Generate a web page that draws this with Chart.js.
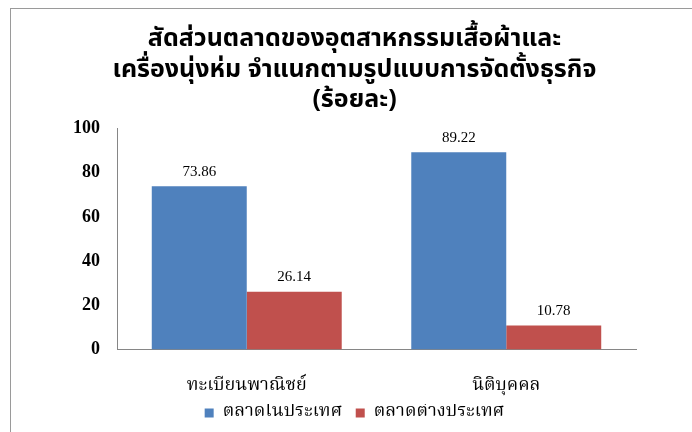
<!DOCTYPE html>
<html>
<head>
<meta charset="utf-8">
<script src="https://cdn.jsdelivr.net/npm/chart.js@4"></script>
<style>
  html, body { margin: 0; padding: 0; background: #fff; width: 692px; height: 432px; overflow: hidden; }
  #frame { position: absolute; left: 10px; top: 8px; width: 690px; height: 430px;
           border-left: 1px solid #9a9a9a; border-top: 1px solid #9a9a9a; background: #fff; }
  canvas { display: block; }
</style>
</head>
<body>
<div id="frame"><canvas id="c" width="690" height="430"></canvas></div>
<script>
const titleLines = ['สัดส่วนตลาดของอุตสาหกรรมเสื้อผ้าและ', 'เครื่องนุ่งห่ม จำแนกตามรูปแบบการจัดตั้งธุรกิจ', '(ร้อยละ)'];
const categories = ['ทะเบียนพาณิชย์', 'นิติบุคคล'];
const seriesNames = ['ตลาดในประเทศ', 'ตลาดต่างประเทศ'];
const domestic = [73.86, 89.22];
const foreign = [26.14, 10.78];
const yTicks = [0, 20, 40, 60, 80, 100];

const thaiSans = '"Noto Sans Thai", "Noto Sans", "DejaVu Sans", sans-serif';
const thaiSerif = '"Noto Serif Thai", "Liberation Serif", "DejaVu Serif", serif';

const valueLabels = {
  id: 'valueLabels',
  afterDatasetsDraw(chart) {
    const ctx = chart.ctx;
    ctx.save();
    ctx.font = '15px "Liberation Serif", "DejaVu Serif", serif';
    ctx.fillStyle = '#000';
    ctx.textAlign = 'center';
    ctx.textBaseline = 'bottom';
    chart.data.datasets.forEach((ds, i) => {
      chart.getDatasetMeta(i).data.forEach((bar, j) => {
        ctx.fillText(ds.data[j].toFixed(2), bar.x, bar.y - 7);
      });
    });
    ctx.restore();
  }
};

new Chart(document.getElementById('c'), {
  type: 'bar',
  data: {
    labels: categories,
    datasets: [
      { label: seriesNames[0], data: domestic, backgroundColor: '#4F81BD', borderWidth: 0 },
      { label: seriesNames[1], data: foreign, backgroundColor: '#C0504D', borderWidth: 0 }
    ]
  },
  options: {
    responsive: false,
    animation: false,
    devicePixelRatio: 1,
    layout: { padding: { left: 62, right: 65, top: 13, bottom: 7 } },
    datasets: { bar: { categoryPercentage: 0.732, barPercentage: 1 } },
    plugins: {
      title: {
        display: true,
        text: titleLines,
        color: '#000',
        font: { family: thaiSans, size: 25, weight: 'bold', lineHeight: 1.22 },
        padding: { top: 4, bottom: 11 }
      },
      legend: {
        position: 'bottom',
        labels: {
          boxWidth: 9, boxHeight: 9, color: '#000',
          font: { family: thaiSerif, size: 18 },
          padding: 0,
          generateLabels(chart) {
            const items = Chart.defaults.plugins.legend.labels.generateLabels(chart);
            items.forEach((it, i) => { if (i < items.length - 1) it.text = it.text + '\u2002\u2005'; });
            return items;
          }
        }
      },
      tooltip: { enabled: false }
    },
    scales: {
      x: {
        grid: { display: false, tickLength: 21 },
        border: { color: '#868686' },
        ticks: { color: '#000', font: { family: thaiSerif, size: 18 }, padding: 6 }
      },
      y: {
        min: 0, max: 100,
        afterBuildTicks(scale) { scale.ticks = yTicks.map(v => ({ value: v })); },
        grid: { display: false, tickLength: 17 },
        border: { color: '#868686' },
        ticks: { color: '#000', font: { family: '"Liberation Serif", "DejaVu Serif", serif', size: 18, weight: 'bold' }, padding: 0 }
      }
    }
  },
  plugins: [valueLabels]
});
</script>
</body>
</html>
